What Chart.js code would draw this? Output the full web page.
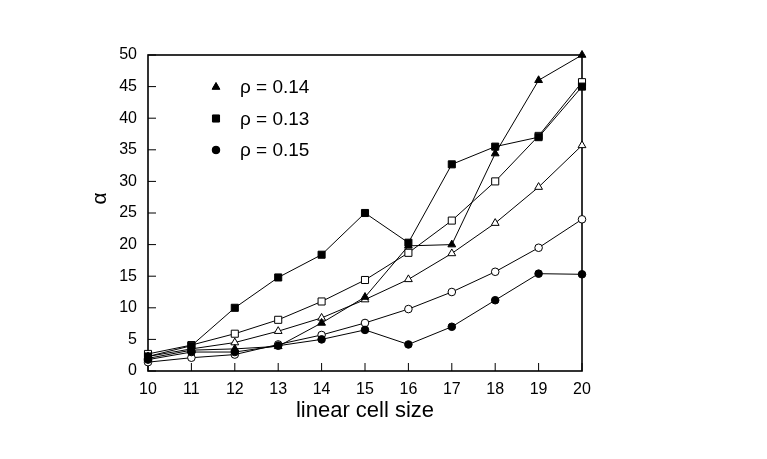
<!DOCTYPE html>
<html>
<head>
<meta charset="utf-8">
<script src="https://cdn.jsdelivr.net/npm/chart.js@4.4.1/dist/chart.umd.min.js"></script>
<style>
  html, body { margin: 0; padding: 0; background: #fff; }
  #wrap { width: 767px; height: 459px; }
</style>
</head>
<body>
<div id="wrap"><canvas id="alphaChart"></canvas></div>
<script>
// tamanho linear da célula e valores de alpha
var cellSize = [10, 11, 12, 13, 14, 15, 16, 17, 18, 19, 20];
var yTicks = [0, 5, 10, 15, 20, 25, 30, 35, 40, 45, 50];

var rho014 = [2.0, 3.3, 3.5, 3.9, 7.6, 11.7, 19.8, 20.0, 34.4, 46.0, 50.0];
var rho013 = [2.3, 4.0, 10.0, 14.8, 18.4, 25.0, 20.3, 32.7, 35.5, 37.0, 45.0];
var rho015 = [1.8, 3.0, 3.0, 4.0, 5.0, 6.5, 4.2, 7.0, 11.2, 15.4, 15.3];
var openTriangle = [2.3, 3.5, 4.5, 6.3, 8.4, 11.3, 14.5, 18.6, 23.4, 29.1, 35.7];
var openSquare = [2.7, 4.1, 5.9, 8.1, 11.0, 14.4, 18.7, 23.8, 30.0, 37.2, 45.7];
var openCircle = [1.4, 2.1, 2.6, 4.2, 5.7, 7.6, 9.8, 12.5, 15.7, 19.5, 24.0];

function pts(vals) {
    return vals.map(function (v, i) { return { x: cellSize[i], y: v }; });
}

function serie(label, vals, style, filled, r) {
    return {
        label: label,
        data: pts(vals),
        borderColor: '#000',
        borderWidth: 1,
        pointStyle: style,
        pointRadius: r,
        pointHoverRadius: r,
        pointBackgroundColor: filled ? '#000' : '#fff',
        pointBorderColor: '#000',
        pointBorderWidth: 1,
        fill: false,
        tension: 0,
        clip: false
    };
}

// moldura do gráfico e marcas para dentro
var frame = {
    id: 'frame',
    beforeDatasetsDraw: function (chart) {
        var c = chart.ctx, a = chart.chartArea;
        c.save();
        c.strokeStyle = '#000';
        c.lineWidth = 1;
        chart.scales.y.ticks.forEach(function (t) {
            var py = chart.scales.y.getPixelForValue(t.value);
            c.beginPath(); c.moveTo(a.left, py); c.lineTo(a.left + 8, py); c.stroke();
        });
        chart.scales.x.ticks.forEach(function (t) {
            var px = chart.scales.x.getPixelForValue(t.value);
            c.beginPath(); c.moveTo(px, a.bottom); c.lineTo(px, a.bottom - 8); c.stroke();
        });
        c.lineWidth = 1.6;
        c.strokeRect(a.left, a.top, a.right - a.left, a.bottom - a.top);
        c.restore();
    }
};

// legenda dentro da área do gráfico
var insideLegend = {
    id: 'insideLegend',
    afterDraw: function (chart) {
        var c = chart.ctx, a = chart.chartArea;
        var row = 0;
        c.save();
        c.font = '19px "Liberation Sans", Arial, sans-serif';
        c.fillStyle = '#000';
        c.textBaseline = 'middle';
        chart.data.datasets.forEach(function (ds) {
            if (!ds.label) return;
            var y = a.top + 32 + row * 31.5;
            Chart.helpers.drawPoint(c, {
                pointStyle: ds.pointStyle,
                radius: ds.pointRadius,
                borderWidth: 1
            }, a.left + 68, y);
            c.fillStyle = '#000';
            c.strokeStyle = '#000';
            c.fill();
            c.fillText(ds.label, a.left + 92, y + 1);
            row++;
        });
        c.restore();
    }
};

var ctx = document.getElementById('alphaChart').getContext('2d');
var alphaChart = new Chart(ctx, {
    type: 'line',
    data: {
        datasets: [
            serie('ρ = 0.14', rho014, 'triangle', true, 4.5),
            serie('ρ = 0.13', rho013, 'rect', true, 5),
            serie('ρ = 0.15', rho015, 'circle', true, 3.8),
            serie('', openTriangle, 'triangle', false, 4.5),
            serie('', openSquare, 'rect', false, 5),
            serie('', openCircle, 'circle', false, 3.8)
        ]
    },
    options: {
        responsive: true,
        maintainAspectRatio: false,
        animation: false,
        layout: { padding: { left: 80, top: 55, right: 185, bottom: 20 } },
        plugins: {
            legend: { display: false },
            tooltip: { enabled: false }
        },
        scales: {
            x: {
                type: 'linear',
                min: 10,
                max: 20,
                afterBuildTicks: function (s) { s.ticks = cellSize.map(function (v) { return { value: v }; }); },
                afterFit: function (s) { s.height = 68; },
                grid: { display: false, drawTicks: false },
                border: { display: false },
                ticks: { color: '#000', padding: 9, font: { family: '"Liberation Sans", Arial', size: 16 } },
                title: {
                    display: true,
                    text: 'linear cell size',
                    color: '#000',
                    font: { family: '"Liberation Sans", Arial', size: 22 },
                    padding: { top: 0, bottom: 15 }
                }
            },
            y: {
                min: 0,
                max: 50,
                afterBuildTicks: function (s) { s.ticks = yTicks.map(function (v) { return { value: v }; }); },
                afterFit: function (s) { s.width = 68; },
                grid: { display: false, drawTicks: false },
                border: { display: false },
                ticks: { color: '#000', padding: 11, font: { family: '"Liberation Sans", Arial', size: 16 } },
                title: {
                    display: true,
                    text: '     α',
                    color: '#000',
                    font: { family: '"Liberation Sans", Arial', size: 21 },
                    padding: { top: 8, bottom: 0 }
                }
            }
        }
    },
    plugins: [frame, insideLegend]
});
</script>
</body>
</html>
